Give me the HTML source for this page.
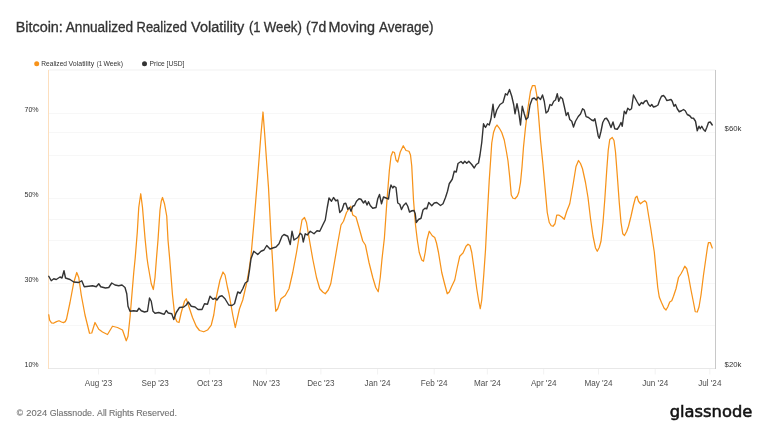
<!DOCTYPE html>
<html lang="en"><head><meta charset="utf-8"><title>Bitcoin: Annualized Realized Volatility (1 Week) (7d Moving Average)</title>
<style>html,body{margin:0;padding:0;background:#fff;overflow:hidden}svg{display:block}</style></head>
<body>
<svg width="768" height="432" viewBox="0 0 768 432">
<rect width="768" height="432" fill="#ffffff"/>
<line x1="48.5" x2="715.5" y1="113.5" y2="113.5" stroke="#f7f7f7" stroke-width="1"/>
<line x1="48.5" x2="715.5" y1="132.5" y2="132.5" stroke="#f7f7f7" stroke-width="1"/>
<line x1="48.5" x2="715.5" y1="155.5" y2="155.5" stroke="#f7f7f7" stroke-width="1"/>
<line x1="48.5" x2="715.5" y1="198.5" y2="198.5" stroke="#f7f7f7" stroke-width="1"/>
<line x1="48.5" x2="715.5" y1="219.5" y2="219.5" stroke="#f7f7f7" stroke-width="1"/>
<line x1="48.5" x2="715.5" y1="240.5" y2="240.5" stroke="#f7f7f7" stroke-width="1"/>
<line x1="48.5" x2="715.5" y1="283.5" y2="283.5" stroke="#f7f7f7" stroke-width="1"/>
<line x1="48.5" x2="715.5" y1="325.5" y2="325.5" stroke="#f7f7f7" stroke-width="1"/>
<line x1="48.5" x2="715.5" y1="70" y2="70" stroke="#f8f8f8" stroke-width="2"/>
<line x1="48.5" x2="715.5" y1="368.5" y2="368.5" stroke="#e8e8e8" stroke-width="1"/>
<line x1="98.5" x2="98.5" y1="369" y2="374.5" stroke="#f2f2f2" stroke-width="1"/>
<line x1="155.2" x2="155.2" y1="369" y2="374.5" stroke="#f2f2f2" stroke-width="1"/>
<line x1="209.7" x2="209.7" y1="369" y2="374.5" stroke="#f2f2f2" stroke-width="1"/>
<line x1="266.3" x2="266.3" y1="369" y2="374.5" stroke="#f2f2f2" stroke-width="1"/>
<line x1="320.9" x2="320.9" y1="369" y2="374.5" stroke="#f2f2f2" stroke-width="1"/>
<line x1="377.6" x2="377.6" y1="369" y2="374.5" stroke="#f2f2f2" stroke-width="1"/>
<line x1="434.2" x2="434.2" y1="369" y2="374.5" stroke="#f2f2f2" stroke-width="1"/>
<line x1="487.3" x2="487.3" y1="369" y2="374.5" stroke="#f2f2f2" stroke-width="1"/>
<line x1="543.7" x2="543.7" y1="369" y2="374.5" stroke="#f2f2f2" stroke-width="1"/>
<line x1="598.5" x2="598.5" y1="369" y2="374.5" stroke="#f2f2f2" stroke-width="1"/>
<line x1="655.2" x2="655.2" y1="369" y2="374.5" stroke="#f2f2f2" stroke-width="1"/>
<line x1="709.8" x2="709.8" y1="369" y2="374.5" stroke="#f2f2f2" stroke-width="1"/>
<line x1="48.5" x2="48.5" y1="70" y2="369" stroke="#fddfbe" stroke-width="1"/>
<line x1="715.5" x2="715.5" y1="70" y2="369" stroke="#c8c8c8" stroke-width="1"/>
<polyline fill="none" stroke="#f7931a" stroke-width="1.25" stroke-linejoin="round" stroke-linecap="round" points="48.75,314.75 49.6,320.2 51.5,322.8 53.4,323.25 56.5,321.6 59,320.75 61.5,322 63.4,322.6 65.25,321.6 66.5,319.1 70,302.5 73.75,282.5 76.75,272.5 78.75,277.5 81.25,295 85,315 89.5,333.25 91.75,333 95,322.5 98.75,329.25 102.5,332 107.5,334.5 112.5,326.25 117.5,327.5 122.5,330 126.25,340.75 128,336.25 130,317.5 133.75,272.5 135.2,258 137.3,232 138.75,207.5 140.75,193.75 142.5,207.5 145,238 147,258 148,265 151.25,283.75 153.35,289.5 155,277.5 156.5,258 158,240 160,210 161.25,201.25 162.5,197.5 164.5,203.75 166.75,216.25 168,240 169.7,259 172.5,295 175,317.5 177,321.75 179,322.5 181.25,312.5 184.5,301.25 186.25,298.75 188.75,306.25 192.5,317.5 196.25,326.25 199.5,330.5 203.75,331.75 207.5,330 211.25,325 213.75,315 216.25,297.5 220,280 223,272 225,275 227.5,287.5 229,293.75 232.75,315 235.25,327.5 237,320 239.5,308.75 242.75,300 246.5,283.75 249,270 251,256 254,222 257.75,176 260.9,135 263,112 264.75,135 266.5,160 268.5,187.5 271,236 272.75,264 274.5,295 275.75,311.25 277.75,308.75 281,298.75 285.25,295.5 289,288.75 292.75,272.5 296.5,252.5 299,237.5 302,220 304.5,217.5 306.5,222.5 309,237.5 312.75,259 316.5,277.5 319.75,288.75 322.75,292 325.25,293.75 328.25,290 330.75,283.75 334,265 337.75,243 341,225 343.5,221.25 346.5,212.5 349,208.75 350.75,206.25 352.75,215 356,217 359,227.5 362.75,241 365.4,245 369,262.5 372.75,277.5 375.75,287.5 378.25,291.75 380.25,277.5 382,259 384.4,238 387,200 389.4,170 391,156.25 392.75,151.75 394.5,152.5 396,160 397.75,162 400.25,152 403.25,145.75 406,150.5 409,151.25 410.5,155 411.75,166 413.5,200 415.5,225 417.3,240 419.25,252.5 421.75,260 423.5,261.25 425.3,252 426.9,240 429.25,231.25 432.25,235.75 434.75,237.5 436.5,243 438.5,252.5 441.75,272.5 444.25,282.5 447.25,293.75 449.25,292 451.75,286.25 454.75,280 457.25,267.5 459.75,256.25 463,253 466,246.25 468,244.25 470,245.5 471.75,252.5 474.25,270 476.75,288.75 478.75,301.25 480.25,308.75 481.75,300 483.75,275 485.5,250 486.75,225 489.25,180 490.5,162 491.75,143 493.5,132.5 495.5,127 497,125 499.25,128 501.75,132.5 504.25,140 506.5,152 508,161 509.75,177.5 511.25,195 513,198.25 515,198.75 517.25,196.25 518.75,192.5 520.5,182.5 522,167 523.5,147 525.5,127.5 528,107.5 530.5,91.25 532.5,85.5 535,85.5 536.75,95 538.5,115 540.5,140 543,165 545,187.5 547.25,212.5 549.25,222.5 551.25,225.75 553,226.25 555,223.75 556.75,215 558.75,215 561.75,217 564.25,219.25 566.75,211.25 569.75,203.75 573,185 576,166.5 578.5,160.5 580.5,163.5 582.5,168.75 585.5,182.5 588,197.5 590.5,218.5 593,236 595.5,248 597.25,251.25 599.25,247.5 601,241.25 603,222.5 604.75,200 606.75,170 608.25,150 609.75,139.5 612.25,137.5 614,140.5 615.5,152 617.25,175 619.25,202.5 621,222.5 622.75,233.75 624.5,235.5 626.75,231.25 628.5,226.25 631,216.25 633.5,205 635.5,197.5 637,196.25 638.5,201.25 640.5,203.75 643,201.75 644.75,200.75 646.5,202.5 648.5,215 651,230 652.6,241 654.3,252 656,270 657.75,287.5 659.25,297 661.5,302.5 664,308 666,310 667.75,307 669.75,302 671.75,300.75 673.5,296.25 676,288.75 678.5,277.5 681,273.75 683,270 684.75,266.25 686.75,268.75 688.5,276.25 691,290 693.5,302.5 695.25,311.75 697.25,312 699,307 701,295 703.5,275 706,257.5 707.5,247 708.5,242.5 710.25,242.5 712.25,248"/>
<polyline fill="none" stroke="#333333" stroke-width="1.4" stroke-linejoin="round" stroke-linecap="round" points="48.75,276.25 51.25,280.75 53.75,278.75 56.25,279.5 60,277 62,278 64,270.75 65.5,278 70,279.5 73.75,282 78.75,282.5 81.75,280.75 84.25,286.75 88.75,286.25 92.5,285.75 96.25,286.75 98.75,283.75 100.75,286.75 105.5,288 108.75,287.5 111.75,283 115,285 118.75,285.75 122,285 125,287.5 126.75,293.75 128,306.25 130,311.25 133.75,310.75 137,311.25 139,308.25 141.25,310.75 144.5,312 147.5,311.25 149.5,298 151.25,301.25 153,311.25 155,313.25 158.75,312.5 162.5,313.75 164.25,314.25 166.25,310.5 168.25,313 171.75,313.75 173.75,319.5 176.25,312.5 179.5,307.5 183.75,307 186.25,305 188.25,302 191.25,306.25 195,307 198,309.5 202,309.5 204.5,303.75 207.5,304.25 210,296.25 213.1,299.4 215,298.1 216.9,300 219.5,296.5 222,295.75 225,298.75 228.75,305 232,305.5 234.5,303.75 236.5,296.25 237.75,292 240.25,293.25 242.75,288.75 245.25,283 247.75,281.25 249.5,270 251,258.75 253.75,251.25 257.75,254.5 261,251.25 264,250 266.75,245.5 270,249 272.75,248 276,247 279,243.75 282,236.25 284,234.5 287.75,236.25 290.25,244.5 292,231.25 294,240 297.75,237.5 300.25,233.25 302,235 303.25,242 305.25,233.75 307.25,235 310.25,231.25 314,233.75 317,230.75 319.75,231.25 322.75,225 325.25,220 327.25,207.5 329,198 331.5,201.25 333.5,197.5 335.75,200.75 337.75,200 339.75,212.5 342,210 344,203.75 345.75,203.25 347.75,209.25 349.5,207.5 351,211.25 352.75,206.25 354.5,205.5 356.5,201.25 359,198.75 361,199.25 363.5,203 365.25,200.75 367,205 368.5,201.75 370.25,205.5 372.75,208.25 376,207.5 377.75,198.75 379.5,194.5 381.5,203.75 383.5,197 386,198 388.5,199 389.75,190 391,185 392.75,188 394,186.25 396,187.5 397.75,203 399.75,204.25 401.5,209.5 403.5,205.5 406,203 407.75,206.25 409.5,212 412,210.75 414,210.5 415.25,213.75 416.25,222.5 418.5,219.5 421,218.25 423,210 425,208.25 426.75,208.75 428.75,202.5 431.75,205.75 434.25,203 436.75,202.5 440.5,205.5 443,203.75 445.5,197.5 447.5,191.25 449.25,183.75 452.25,179.25 454.25,171.25 456.25,172 458,163.5 461,161.5 463,163.5 464.75,161.25 466.75,163.25 468.75,161.25 471.75,164.5 474.25,168 476.25,164.5 478.5,163 480,155 481.75,142.5 483.5,123.75 485.5,127.5 487.5,123.75 489.25,125 491,118.75 493,104.25 494.5,117.5 496.75,110 500,104.5 503,102.5 505.5,93.75 507.25,95 509.5,89.5 511.75,96.25 513.75,105 515,113.75 517,103.75 518.75,112.5 520.5,125 522.25,106.25 524.25,113.75 526,119.5 528,117.5 530,105 532.25,98.75 534.25,98 536.25,100 538,97 540.5,99.5 542.5,95 544.25,101.25 546,113 548,111.25 550,104.5 551.75,105.5 553.75,101.25 555.5,100 557.25,93.75 558.75,101.25 560.5,97 562.5,98.75 564.25,106.25 566.25,115.5 568,112.5 569.75,119.5 571.75,121.25 573.5,127 575.5,121.25 578.25,116.5 580.5,114 582.6,108.75 584.25,110 586.1,116.6 588.5,117.5 591.6,120 593.5,120.75 594.9,118.75 596.6,127.2 598.2,136 599.25,138.25 601,131.25 602.75,122.5 604.75,118.75 606.5,118.25 608.5,121.25 611,127.5 613,122 614.75,128.75 617.25,129.25 619.25,126.25 621,122.5 622.25,126.25 624.25,111.25 626,113.75 627.75,108.25 629.75,110 631.5,108.75 633.5,95 635.5,98.75 637.25,102 639.25,105.5 641.5,102.5 643,103.75 644.75,101.25 646.75,100.5 648.5,104.5 650.25,106.25 651.75,104.5 653.5,107 656,106.25 658,105 659.75,100 661.5,96.25 663.5,95.5 665.25,97.5 666.75,100.5 669,100 671,99.5 672.25,101.25 674,106.25 675.5,104.5 677.25,108.75 679.25,111.75 681.5,110.75 683.5,109.5 685.25,110.75 687.25,114.5 689.75,115.75 691.5,118 693.5,118.25 695.5,121.25 697.25,130.75 699,126.25 700.25,128.75 701.75,126.25 703.5,129.5 705.25,131.25 706.75,127.5 708.5,122.5 710.25,122 712.25,125"/>
<g font-family="'Liberation Sans', Arial, sans-serif">
<text y="32" font-size="13.78" fill="#333333" stroke="#333333" stroke-width="0.3"><tspan x="15.71" textLength="47.12" lengthAdjust="spacingAndGlyphs">Bitcoin:</tspan> <tspan x="65.75" textLength="67.37" lengthAdjust="spacingAndGlyphs">Annualized</tspan> <tspan x="136.56" textLength="50.35" lengthAdjust="spacingAndGlyphs">Realized</tspan> <tspan x="191.13" textLength="53.11" lengthAdjust="spacingAndGlyphs">Volatility</tspan> <tspan x="248.91" textLength="11.56" lengthAdjust="spacingAndGlyphs">(1</tspan> <tspan x="263.87" textLength="38.01" lengthAdjust="spacingAndGlyphs">Week)</tspan> <tspan x="306.12" textLength="20.15" lengthAdjust="spacingAndGlyphs">(7d</tspan> <tspan x="328.56" textLength="46.36" lengthAdjust="spacingAndGlyphs">Moving</tspan> <tspan x="379.00" textLength="54.60" lengthAdjust="spacingAndGlyphs">Average)</tspan></text>
<circle cx="36.7" cy="63.7" r="2.5" fill="#f7931a"/>
<text y="66.2" font-size="6.7" fill="#333333"><tspan x="41.26" textLength="25.75" lengthAdjust="spacingAndGlyphs">Realized</tspan> <tspan x="68.60" textLength="25.55" lengthAdjust="spacingAndGlyphs">Volatility</tspan> <tspan x="96.66" textLength="5.33" lengthAdjust="spacingAndGlyphs">(1</tspan> <tspan x="103.50" textLength="19.53" lengthAdjust="spacingAndGlyphs">Week)</tspan></text>
<circle cx="144.5" cy="63.7" r="2.5" fill="#333333"/>
<text x="149.5" y="66" font-size="6.7" fill="#333333">Price [USD]</text>
<text x="38.7" y="112.2" font-size="7.1" fill="#333333" text-anchor="end">70%</text>
<text x="38.7" y="197.2" font-size="7.1" fill="#333333" text-anchor="end">50%</text>
<text x="38.7" y="282.2" font-size="7.1" fill="#333333" text-anchor="end">30%</text>
<text x="38.7" y="366.7" font-size="7.1" fill="#333333" text-anchor="end">10%</text>
<text x="724.6" y="131.45" font-size="7.75" fill="#333333">$60k</text>
<text x="724.6" y="367.2" font-size="7.75" fill="#333333">$20k</text>
<text x="98.5" y="386.2" font-size="8.15" fill="#4f4f4f" text-anchor="middle">Aug '23</text>
<text x="155.2" y="386.2" font-size="8.15" fill="#4f4f4f" text-anchor="middle">Sep '23</text>
<text x="209.7" y="386.2" font-size="8.15" fill="#4f4f4f" text-anchor="middle">Oct '23</text>
<text x="266.3" y="386.2" font-size="8.15" fill="#4f4f4f" text-anchor="middle">Nov '23</text>
<text x="320.9" y="386.2" font-size="8.15" fill="#4f4f4f" text-anchor="middle">Dec '23</text>
<text x="377.6" y="386.2" font-size="8.15" fill="#4f4f4f" text-anchor="middle">Jan '24</text>
<text x="434.2" y="386.2" font-size="8.15" fill="#4f4f4f" text-anchor="middle">Feb '24</text>
<text x="487.3" y="386.2" font-size="8.15" fill="#4f4f4f" text-anchor="middle">Mar '24</text>
<text x="543.7" y="386.2" font-size="8.15" fill="#4f4f4f" text-anchor="middle">Apr '24</text>
<text x="598.5" y="386.2" font-size="8.15" fill="#4f4f4f" text-anchor="middle">May '24</text>
<text x="655.2" y="386.2" font-size="8.15" fill="#4f4f4f" text-anchor="middle">Jun '24</text>
<text x="709.8" y="386.2" font-size="8.15" fill="#4f4f4f" text-anchor="middle">Jul '24</text>
<text y="416.3" font-size="9.03" fill="#737373" stroke="#737373" stroke-width="0.12"><tspan x="16.75" textLength="6.28" lengthAdjust="spacingAndGlyphs">©</tspan> <tspan x="26.36" textLength="20.83" lengthAdjust="spacingAndGlyphs">2024</tspan> <tspan x="49.63" textLength="44.84" lengthAdjust="spacingAndGlyphs">Glassnode.</tspan> <tspan x="97.12" textLength="9.64" lengthAdjust="spacingAndGlyphs">All</tspan> <tspan x="108.89" textLength="25.05" lengthAdjust="spacingAndGlyphs">Rights</tspan> <tspan x="136.13" textLength="40.99" lengthAdjust="spacingAndGlyphs">Reserved.</tspan></text>
</g>
<text x="669.7" y="416.8" font-family="'DejaVu Sans', 'Liberation Sans', sans-serif" font-size="16" fill="#111111" stroke="#111111" stroke-width="0.55" textLength="82.6" lengthAdjust="spacingAndGlyphs">glassnode</text>
</svg>
</body></html>
